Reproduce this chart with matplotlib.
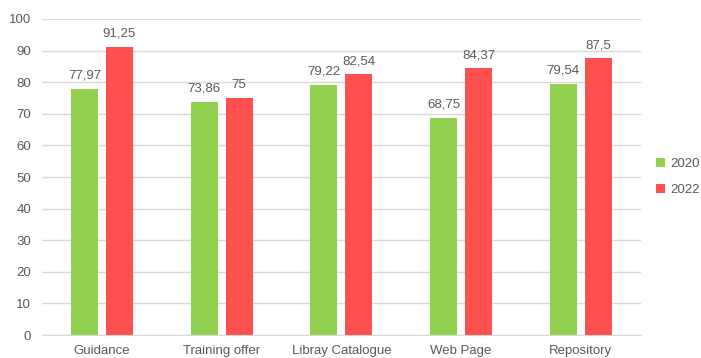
import matplotlib.pyplot as plt
import numpy as np

categories = ['Guidance', 'Training offer', 'Libray Catalogue', 'Web Page', 'Repository']
values_2020 = [77.97, 73.86, 79.22, 68.75, 79.54]
values_2022 = [91.25, 75, 82.54, 84.37, 87.5]
series_names = ['2020', '2022']

green = '#92D050'
red = '#FF5050'
text_grey = '#595959'
grid_grey = '#D9D9D9'

plt.rcParams['font.family'] = ['Liberation Sans', 'DejaVu Sans']


def fmt(v):
    # decimal comma, no trailing zeros
    return ('%g' % v).replace('.', ',')


fig = plt.figure(figsize=(7.01, 3.58), dpi=100)
ax = fig.add_axes([0.06, 0.064, 0.854, 0.883])

x = np.arange(len(categories))
width = 0.225
offset = 0.146

bars_a = ax.bar(x - offset, values_2020, width, color=green, label=series_names[0], zorder=2)
bars_b = ax.bar(x + offset, values_2022, width, color=red, label=series_names[1], zorder=2)

ax.bar_label(bars_a, labels=[fmt(v) for v in values_2020], padding=5,
             fontsize=9.5, color=text_grey)
ax.bar_label(bars_b, labels=[fmt(v) for v in values_2022], padding=5,
             fontsize=9.5, color=text_grey)

ax.set_xlim(-0.5, len(categories) - 0.5)
ax.set_ylim(0, 100)
ax.set_yticks(np.arange(0, 101, 10))
ax.set_xticks(x)
ax.set_xticklabels(categories)
ax.yaxis.grid(True, color=grid_grey, linewidth=1)
ax.set_axisbelow(True)

for side in ['top', 'right', 'left']:
    ax.spines[side].set_visible(False)
ax.spines['bottom'].set_color(grid_grey)
ax.tick_params(axis='both', length=0, labelsize=9.5, colors=text_grey)
ax.tick_params(axis='x', pad=7)
ax.tick_params(axis='y', pad=8)

ax.legend(loc='center left', bbox_to_anchor=(1.005, 0.5), frameon=False,
          fontsize=9.5, labelcolor=text_grey, handlelength=0.7, handleheight=0.7,
          handletextpad=0.4, labelspacing=1.0)

fig.savefig('out.png', dpi=100)
